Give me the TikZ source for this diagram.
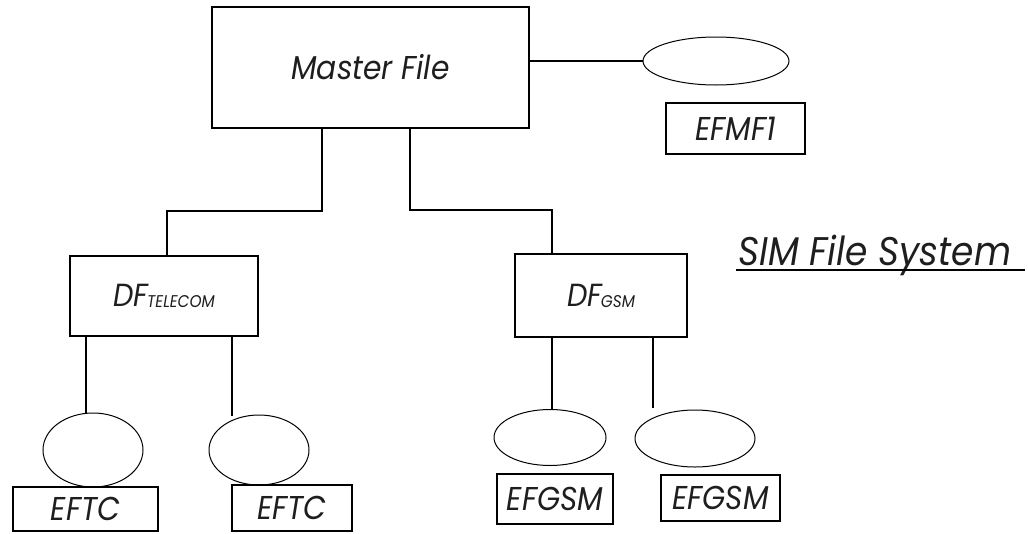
\documentclass[tikz,border=0pt]{standalone}
\usepackage{fontspec}
\setmainfont{Poppins}[FakeStretch=0.9]
\usetikzlibrary{shapes.geometric}
\definecolor{ink}{HTML}{1E1E1E}
\tikzset{
  box/.style={draw, rectangle, line width=1.3pt, inner sep=0pt, text=ink, font=\itshape\fontsize{33}{35}\selectfont},
  oval/.style={draw, ellipse, line width=1pt, inner sep=0pt},
  wire/.style={line width=1.3pt},
}
\newcommand{\subtag}[1]{\kern-1pt\raisebox{-1pt}{\fontsize{17}{18}\selectfont #1}}
\begin{document}
\begin{tikzpicture}[x=1pt,y=-1pt]
\useasboundingbox (0,0) rectangle (1028,533);
% boxes
\node[box, minimum width=317pt, minimum height=121pt] (master) at (370.5,67.5) {Master File};
\node[oval, minimum width=146pt, minimum height=48pt] (e0) at (716,61) {};
\node[box, minimum width=139pt, minimum height=51pt] (efmf) at (735.5,128.5) {EFMF1};
\node[box, minimum width=188pt, minimum height=80pt, font=\itshape\fontsize{32}{34}\selectfont] (dftel) at (164,296) {DF\subtag{TELECOM}};
\node[box, minimum width=172pt, minimum height=83pt, font=\itshape\fontsize{32}{34}\selectfont] (dfgsm) at (601,295.5) {DF\subtag{GSM}};
\node[oval, minimum width=100pt, minimum height=74pt] (e1) at (93,450) {};
\node[oval, minimum width=100pt, minimum height=70pt] (e2) at (259,450) {};
\node[oval, minimum width=112pt, minimum height=56pt] (e3) at (550,437.5) {};
\node[oval, minimum width=120pt, minimum height=57pt] (e4) at (695,438.5) {};
\node[box, minimum width=145pt, minimum height=44pt] (eftca) at (85.5,509) {EFTC\hspace{16pt}};
\node[box, minimum width=120pt, minimum height=46pt] (eftcb) at (292,508) {EFTC\hspace{8pt}};
\node[box, minimum width=116pt, minimum height=50pt] (efgsma) at (555,499) {EFGSM};
\node[box, minimum width=119pt, minimum height=46pt] (efgsmb) at (720.5,498) {EFGSM};
% title
\node[anchor=base west, inner sep=0pt, text=ink, font=\itshape\fontsize{40}{42}\selectfont] (sim) at (738,265) {SIM File System};
\draw[line width=1.3pt] ([shift={(-2pt,-5pt)}]sim.base west) coordinate (u1) -- ++(289,0) coordinate (u2);
% connectors
\coordinate (a1) at (322,211);
\coordinate (a2) at (167,211);
\coordinate (b1) at (410,210);
\coordinate (b2) at (552,210);
\draw[wire] (master.east |- e0.west) -- (e0.west);
\draw[wire] (a1 |- master.south) -- (a1) -- (a2) -- (a2 |- dftel.north);
\draw[wire] (b1 |- master.south) -- (b1) -- (b2) -- (b2 |- dfgsm.north);
\coordinate (c1) at (86,413);
\coordinate (c2) at (232,416);
\coordinate (d1) at (552,409.5);
\coordinate (d2) at (653,408);
\draw[wire] (c1 |- dftel.south) -- (c1);
\draw[wire] (c2 |- dftel.south) -- (c2);
\draw[wire] (d1 |- dfgsm.south) -- (d1);
\draw[wire] (d2 |- dfgsm.south) -- (d2);
\end{tikzpicture}
\end{document}
